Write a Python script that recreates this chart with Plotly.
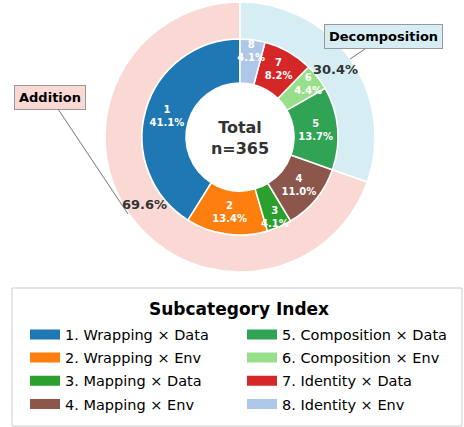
import math
import plotly.graph_objects as go

# Dados
indices = ['1', '2', '3', '4', '5', '6', '7', '8']
sub_names = ['Wrapping × Data', 'Wrapping × Env', 'Mapping × Data', 'Mapping × Env',
             'Composition × Data', 'Composition × Env', 'Identity × Data', 'Identity × Env']
sub_counts = [150, 49, 15, 40, 50, 16, 30, 15]
sub_colors = ['#1f77b4', '#ff7f0e', '#2ca02c', '#8c564b',
              '#31a354', '#98df8a', '#d62728', '#aec7e8']
categories = ['Addition', 'Decomposition']
cat_members = [4, 4]  # subcategorias por categoria
cat_colors = ['#fad9d5', '#d6eef3']
legend_title = 'Subcategory Index'

cat_counts = [sum(sub_counts[:cat_members[0]]), sum(sub_counts[cat_members[0]:])]
total = sum(sub_counts)

# Geometria (px)
W, H = 464, 427
CX, CY = 240, 137
R_OUT, R_IN, R_HOLE = 135, 98, 54
FONT = 'DejaVu Sans'


def dom(r):
    return dict(x=[(CX - r) / W, (CX + r) / W], y=[1 - (CY + r) / H, 1 - (CY - r) / H])


# no plotly, em 'counterclockwise' a 1a fatia fica em [rotation, rotation+v1];
# gira para que a 1a fatia termine às 12h e as seguintes sigam no sentido anti-horário
def rot_first(vals):
    return -360 * vals[0] / sum(vals)


fig = go.Figure()

# Anel externo (categorias)
fig.add_trace(go.Pie(
    labels=categories, values=cat_counts, sort=False, direction='counterclockwise',
    rotation=rot_first(cat_counts),
    hole=R_IN / R_OUT, domain=dom(R_OUT),
    marker=dict(colors=cat_colors, line=dict(color='white', width=1.5)),
    textinfo='none', showlegend=False,
))

# Anel interno (subcategorias)
fig.add_trace(go.Pie(
    labels=[f'{i}. {n}' for i, n in zip(indices, sub_names)], values=sub_counts,
    text=indices, sort=False, direction='counterclockwise',
    rotation=rot_first(sub_counts),
    hole=R_HOLE / R_IN, domain=dom(R_IN),
    marker=dict(colors=sub_colors, line=dict(color='white', width=1.5)),
    texttemplate='%{text}<br>%{percent:.1%}', textposition='inside',
    insidetextorientation='horizontal',
    insidetextfont=dict(family=FONT, size=10, color='white', weight='bold'),
    title=dict(text=f'Total<br>n={total}', position='middle center',
               font=dict(family=FONT, size=16, color='#333333', weight='bold')),
    showlegend=False,
))

# Legenda em duas colunas (legend / legend2)
half = len(indices) // 2
for k in range(len(indices)):
    fig.add_trace(go.Scatter(
        x=[None], y=[None], mode='lines', name=f'{indices[k]}. {sub_names[k]}',
        line=dict(color=sub_colors[k], width=10),
        legend='legend' if k < half else 'legend2', legendgroup=f'g{k}',
    ))

# Rótulos percentuais do anel externo
r_mid = (R_OUT + R_IN) / 2
acc = 0
for name, c in zip(categories, cat_counts):
    frac_mid = (acc + c / 2) / total
    ang = math.radians(90 + 360 * frac_mid)
    px = CX + r_mid * math.cos(ang)
    py = CY - r_mid * math.sin(ang)
    fig.add_annotation(x=px / W, y=1 - py / H, xref='paper', yref='paper',
                       xanchor='center', yanchor='middle',
                       text=f'{100 * c / total:.1f}%', showarrow=False,
                       font=dict(family=FONT, size=13, color='#333333', weight='bold'))
    acc += c

# Caixas das categorias
fig.add_annotation(x=128 / W, y=1 - 214 / H, xref='paper', yref='paper',
                   ax=-78, ay=-117, text=categories[0], showarrow=True,
                   arrowhead=0, arrowwidth=1, arrowcolor='#777777',
                   bgcolor=cat_colors[0], bordercolor='#999999', borderwidth=1, borderpad=4,
                   font=dict(family=FONT, size=13, color='black', weight='bold'))
fig.add_annotation(x=350 / W, y=1 - 59 / H, xref='paper', yref='paper',
                   ax=33, ay=-22, text=categories[1], showarrow=True,
                   arrowhead=0, arrowwidth=1, arrowcolor='#777777',
                   bgcolor=cat_colors[1], bordercolor='#999999', borderwidth=1, borderpad=4,
                   font=dict(family=FONT, size=13, color='black', weight='bold'))

# Caixa e título da legenda
fig.add_shape(type='rect', xref='paper', yref='paper',
              x0=12 / W, x1=462 / W, y0=1 - 426 / H, y1=1 - 288 / H,
              line=dict(color='#cccccc', width=1), fillcolor='white', layer='below')
fig.add_annotation(x=239 / W, y=1 - 309 / H, xref='paper', yref='paper',
                   xanchor='center', yanchor='middle',
                   text=legend_title, showarrow=False,
                   font=dict(family=FONT, size=17, color='black', weight='bold'))

leg_common = dict(
    yanchor='top', xanchor='left', y=1 - 318.5 / H,
    font=dict(family=FONT, size=14.5, color='black'),
    bgcolor='rgba(0,0,0,0)', borderwidth=0, tracegroupgap=1.3, itemwidth=30,
)

fig.update_layout(
    width=W, height=H,
    margin=dict(l=0, r=0, t=0, b=0),
    paper_bgcolor='white', plot_bgcolor='white',
    font=dict(family=FONT),
    uniformtext=dict(minsize=10, mode='show'),
    xaxis=dict(visible=False), yaxis=dict(visible=False),
    legend=dict(x=25 / W, **leg_common),
    legend2=dict(x=242 / W, **leg_common),
)

fig.write_html('out.html', config={'displayModeBar': False},
               post_script="document.body.style.margin='0';")
